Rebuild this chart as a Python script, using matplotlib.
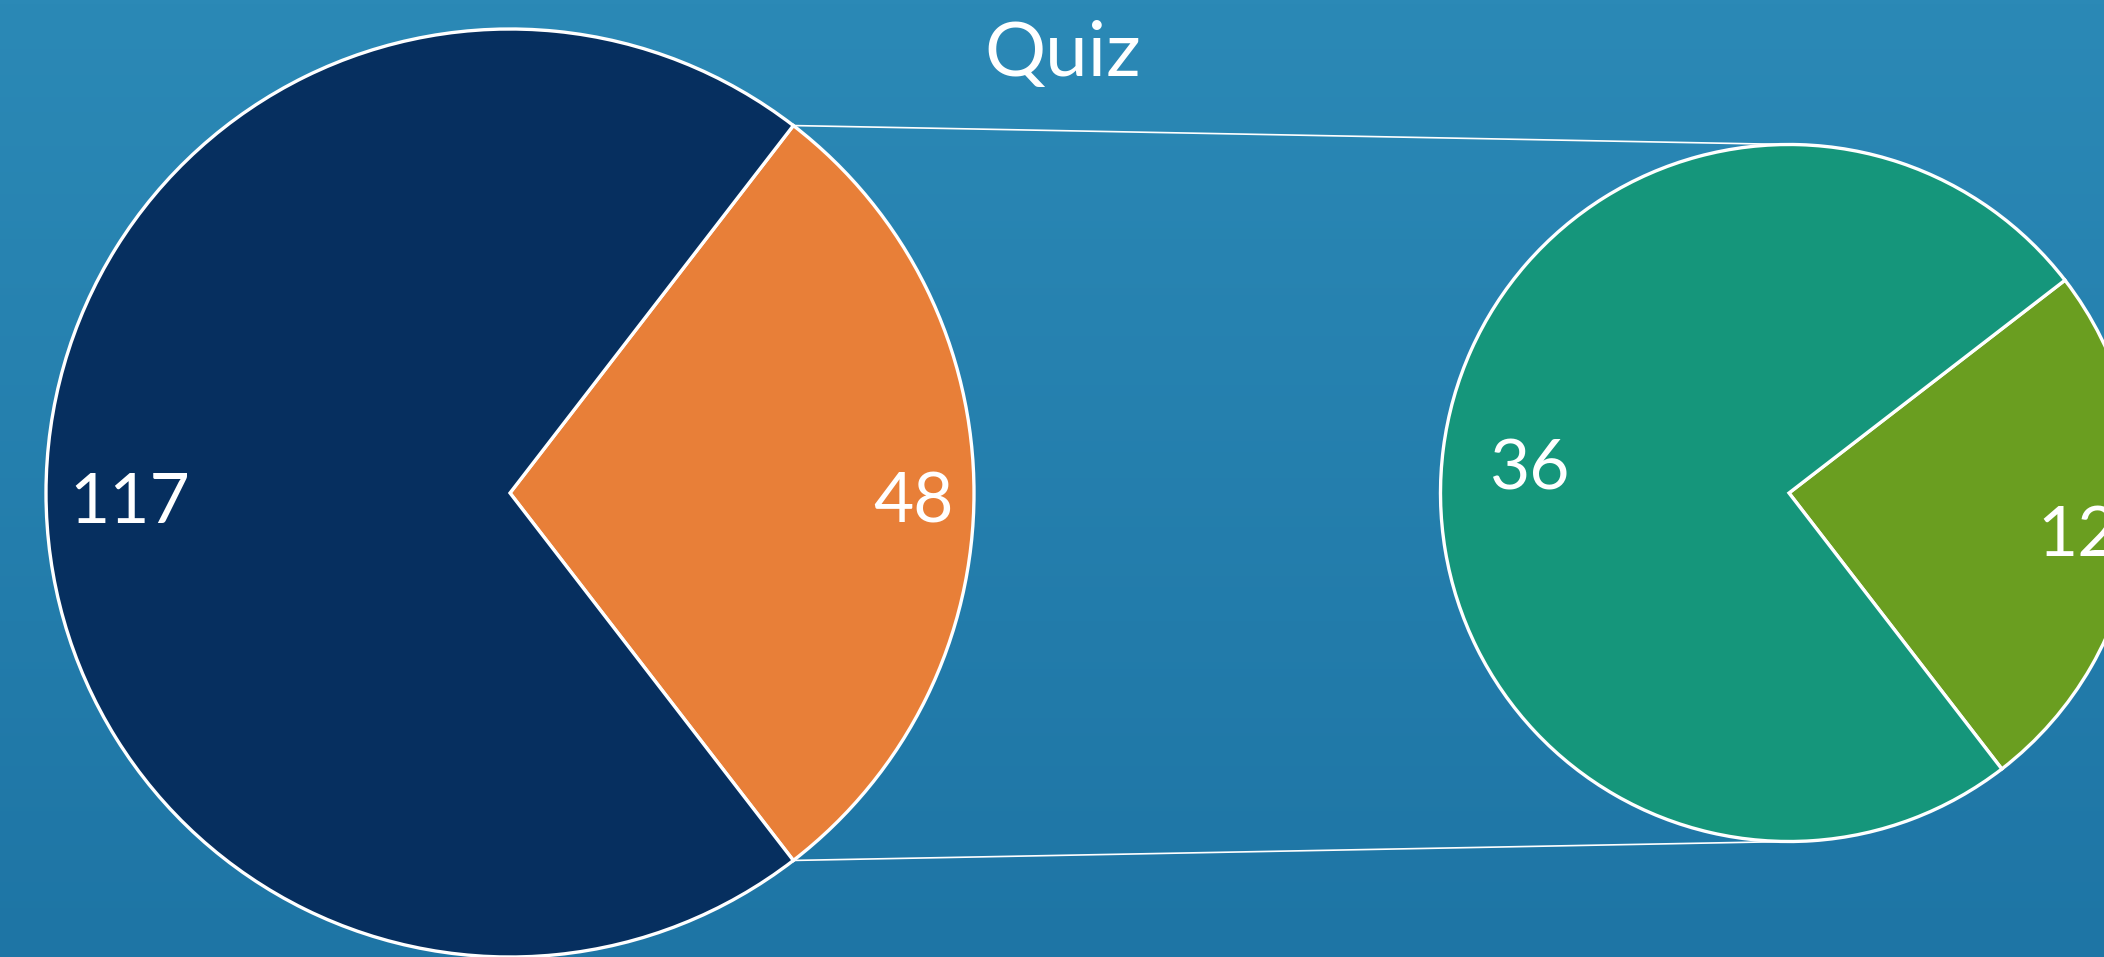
import numpy as np
import matplotlib
matplotlib.use("Agg")
import matplotlib.pyplot as plt

# ---- data ----
main_labels = ["48", "117"]
main_values = [48, 117]
main_colors = ["#E87F38", "#062F5F"]

sub_labels = ["12", "36"]
sub_values = [12, 36]
sub_colors = ["#6A9E20", "#15967B"]

title = "Quiz"

W, H = 2104, 957
fig = plt.figure(figsize=(W / 100, H / 100), dpi=100)
ax = fig.add_axes([0, 0, 1, 1])

# background gradient
grad = np.linspace(0, 1, 256).reshape(-1, 1)
top = np.array([0x2B, 0x89, 0xB6]) / 255
bot = np.array([0x1E, 0x75, 0xA5]) / 255
img = top[None, None, :] * (1 - grad[..., None]) + bot[None, None, :] * grad[..., None]
ax.imshow(img, extent=[0, W, 0, H], aspect="auto", zorder=0)

plt.rcParams['font.family'] = ['Lato', 'DejaVu Sans']

main_frac = main_values[0] / sum(main_values)
start = -main_frac * 360 / 2

c1, r1 = (510, 464), 464
c2, r2 = (1789, 464), 348.5

wprops = dict(edgecolor="white", linewidth=2.4)
w1, _ = ax.pie(main_values, colors=main_colors, startangle=start, center=c1,
               radius=r1, wedgeprops=wprops, frame=True)
w2, _ = ax.pie(sub_values, colors=sub_colors, startangle=start, center=c2,
               radius=r2, wedgeprops=wprops, frame=True)

def place_labels(wedges, labels, center, radius, dists, dys):
    for w, lab, d, dy in zip(wedges, labels, dists, dys):
        mid = np.deg2rad((w.theta1 + w.theta2) / 2)
        x = center[0] + d * radius * np.cos(mid)
        y = center[1] + d * radius * np.sin(mid) + dy
        ax.text(x, y, lab, ha="center", va="center", color="white",
                fontsize=50, fontweight="normal", zorder=5)

place_labels(w1, main_labels, c1, r1, [0.87, 0.82], [-10, -10])
place_labels(w2, sub_labels, c2, r2, [0.835, 0.75], [-6, -10])

# connector lines
t_top = np.deg2rad(w1[0].theta2)
t_bot = np.deg2rad(w1[0].theta1)
p_top = (c1[0] + r1 * np.cos(t_top), c1[1] + r1 * np.sin(t_top))
p_bot = (c1[0] + r1 * np.cos(t_bot), c1[1] + r1 * np.sin(t_bot))
ax.plot([p_top[0], c2[0]], [p_top[1], c2[1] + r2], color="white", lw=1.2, zorder=4)
ax.plot([p_bot[0], c2[0]], [p_bot[1], c2[1] - r2], color="white", lw=1.2, zorder=4)

ax.text(1063, H - 76, title, ha="center", va="baseline", color="white",
        fontsize=55, fontweight="normal", zorder=5)

ax.set_xlim(0, W)
ax.set_ylim(0, H)
ax.set_aspect("auto")
ax.axis("off")

fig.savefig("out.png", dpi=100)
